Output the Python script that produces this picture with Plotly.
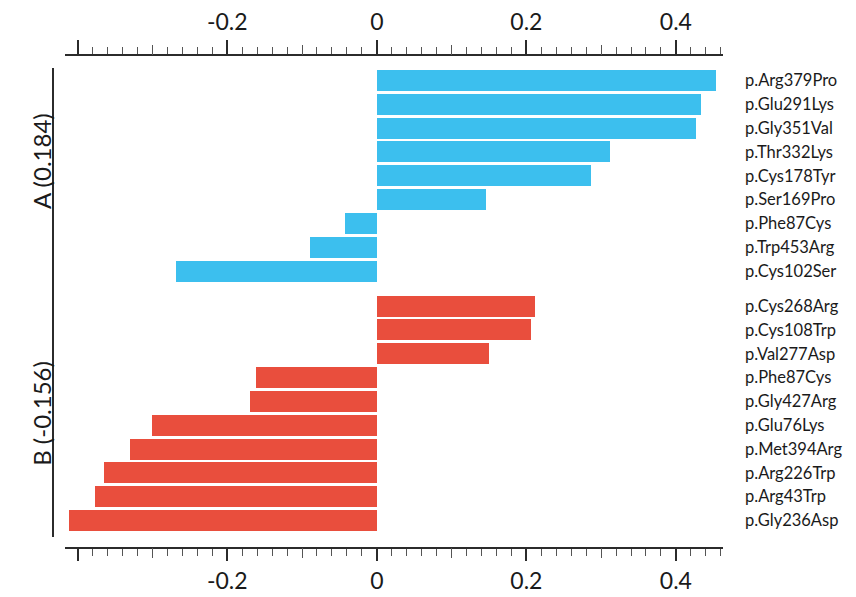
import plotly.graph_objects as go

# ---- data ----
group_a_labels = ["p.Arg379Pro", "p.Glu291Lys", "p.Gly351Val", "p.Thr332Lys", "p.Cys178Tyr",
                  "p.Ser169Pro", "p.Phe87Cys", "p.Trp453Arg", "p.Cys102Ser"]
group_a_values = [0.454, 0.434, 0.427, 0.312, 0.286, 0.146, -0.042, -0.090, -0.268]

group_b_labels = ["p.Cys268Arg", "p.Cys108Trp", "p.Val277Asp", "p.Phe87Cys", "p.Gly427Arg",
                  "p.Glu76Lys", "p.Met394Arg", "p.Arg226Trp", "p.Arg43Trp", "p.Gly236Asp"]
group_b_values = [0.211, 0.206, 0.150, -0.162, -0.170, -0.300, -0.330, -0.365, -0.377, -0.412]

group_names = ["A (0.184)", "B (-0.156)"]
major_ticks = [-0.4, -0.2, 0, 0.2, 0.4]
major_tick_text = ["", "-0.2", "0", "0.2", "0.4"]
mid_ticks = [-0.3, -0.1, 0.1, 0.3]

BLUE = "#3cbfee"
RED = "#e94e3d"
AXC = "#2b2b2b"
GAP = 0.47

ya = list(range(len(group_a_labels)))
yb = [len(group_a_labels) + GAP + i for i in range(len(group_b_labels))]

fig = go.Figure()
fig.add_trace(go.Bar(x=group_a_values, y=ya, orientation="h", width=0.88,
                     marker=dict(color=BLUE, line=dict(width=0)), showlegend=False))
fig.add_trace(go.Bar(x=group_b_values, y=yb, orientation="h", width=0.88,
                     marker=dict(color=RED, line=dict(width=0)), showlegend=False))
# helper traces so overlay axes are drawn
for ax in ["x2", "x3", "x4"]:
    fig.add_trace(go.Scatter(x=[None], y=[None], xaxis=ax, yaxis="y", showlegend=False,
                             hoverinfo="skip"))

XR = [-0.417, 0.463]
last = yb[-1]
YR = [last + (547 - 520.5) / 23.82, -(80.5 - 56) / 23.82]

W, H = 856, 597
ML, MT = 65, 56
MR = W - 723
MB = H - 547
PW = W - ML - MR

tickfont = dict(family="Lato, 'Open Sans', sans-serif", size=23, color="#1a1a1a")
base = dict(range=XR, showgrid=False, zeroline=False, automargin=False)

fig.update_layout(
    width=W, height=H,
    paper_bgcolor="white", plot_bgcolor="white",
    margin=dict(l=ML, r=MR, t=MT, b=MB),
    bargap=0,
    xaxis=dict(**base, side="bottom", anchor="y", showline=True, linecolor=AXC, linewidth=2,
               tickmode="array", tickvals=major_ticks, ticktext=major_tick_text,
               ticks="outside", ticklen=12, tickwidth=2, tickcolor=AXC, tickfont=tickfont,
               minor=dict(dtick=0.02, tick0=0, ticks="outside", ticklen=7, tickwidth=1,
                          tickcolor="#555")),
    xaxis2=dict(**base, side="top", overlaying="x", anchor="y", showline=True, linecolor=AXC,
                linewidth=2, tickmode="array", tickvals=major_ticks, ticktext=major_tick_text,
                ticks="outside", ticklen=14, tickwidth=2, tickcolor=AXC, tickfont=tickfont,
                ticklabelstandoff=1,
                minor=dict(dtick=0.02, tick0=0, ticks="outside", ticklen=7, tickwidth=1,
                           tickcolor="#555")),
    xaxis3=dict(**base, side="bottom", overlaying="x", anchor="y", showline=False,
                tickmode="array", tickvals=mid_ticks, ticks="outside", ticklen=10, tickwidth=1,
                tickcolor="#555", showticklabels=False),
    xaxis4=dict(**base, side="top", overlaying="x", anchor="y", showline=False,
                tickmode="array", tickvals=mid_ticks, ticks="outside", ticklen=10, tickwidth=1,
                tickcolor="#555", showticklabels=False),
    yaxis=dict(range=YR, side="right", showgrid=False, zeroline=False, showline=False,
               automargin=False,
               tickmode="array", tickvals=ya + yb, ticktext=group_a_labels + group_b_labels,
               ticks="", ticklabelstandoff=21,
               tickfont=dict(family="Lato, 'Open Sans', sans-serif", size=16.5, color="#1a1a1a")),
)

# left bracket line
lx = (53 - 65) / PW
fig.add_shape(type="line", xref="paper", yref="y",
              x0=lx, x1=lx,
              y0=-(80.5 - 68) / 23.82, y1=last + (537 - 520.5) / 23.82,
              line=dict(color=AXC, width=2))

centers = [sum(ya) / len(ya) - 0.6, sum(yb) / len(yb)]
for name, c in zip(group_names, centers):
    fig.add_annotation(text=name, xref="paper", yref="y", x=(25 - 65) / PW, y=c,
                       textangle=-90, showarrow=False,
                       font=dict(family="Lato, 'Open Sans', sans-serif", size=24, color="#1a1a1a"))

fig.write_html("out.html", config={"displayModeBar": False},
               post_script="document.body.style.margin='0px';document.body.style.overflow='hidden';")
